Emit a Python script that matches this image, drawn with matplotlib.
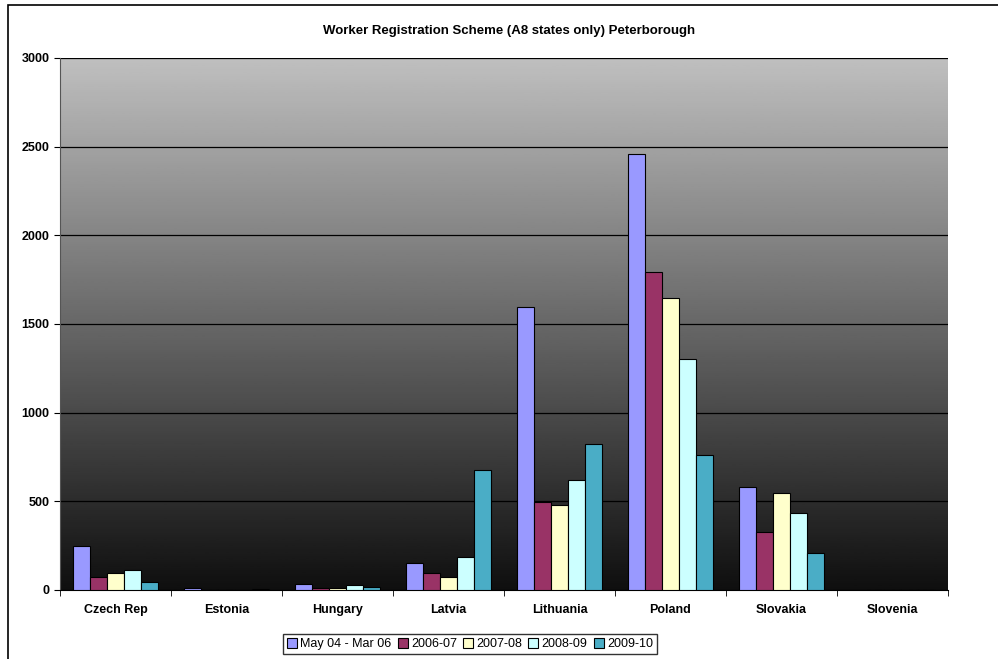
import numpy as np
import matplotlib
matplotlib.use('Agg')
import matplotlib.pyplot as plt
from matplotlib.patches import Rectangle

plt.rcParams['font.family'] = ['Liberation Sans', 'DejaVu Sans']

countries = ['Czech Rep', 'Estonia', 'Hungary', 'Latvia', 'Lithuania', 'Poland', 'Slovakia', 'Slovenia']
series = ['May 04 - Mar 06', '2006-07', '2007-08', '2008-09', '2009-10']

may04_mar06 = [248, 10, 35, 150, 1598, 2460, 581, 0]
y2006_07 = [73, 2, 10, 96, 496, 1795, 327, 0]
y2007_08 = [96, 2, 10, 73, 479, 1647, 547, 0]
y2008_09 = [113, 2, 30, 186, 620, 1303, 434, 0]
y2009_10 = [45, 5, 15, 677, 823, 761, 209, 0]

values = [may04_mar06, y2006_07, y2007_08, y2008_09, y2009_10]
colors = ['#9999ff', '#993366', '#ffffcc', '#ccffff', '#4aadc6']

fig = plt.figure(figsize=(9.98, 6.59), dpi=100)
ax = fig.add_axes([60/998, 1 - 590/659, 888/998, 532/659])

# outer chart frame (only left and top edges fall inside the picture)
fig.patches.append(Rectangle((8/998, -0.1), 1.2, 1.1 - 5/659, transform=fig.transFigure,
                             fill=False, edgecolor='black', linewidth=1.2))

# grey-to-black gradient plot area
grad = np.linspace(0.75, 0.06, 256).reshape(-1, 1)
ax.imshow(grad, cmap='gray', vmin=0, vmax=1, aspect='auto',
          extent=(-0.5, len(countries) - 0.5, 0, 3000), zorder=0)

x = np.arange(len(countries))
w = 0.154
for i, (vals, c, lab) in enumerate(zip(values, colors, series)):
    ax.bar(x + (i - 2) * w, vals, width=w, color=c, edgecolor='black',
           linewidth=0.8, label=lab, zorder=3)

ax.set_xlim(-0.5, len(countries) - 0.5)
ax.set_ylim(0, 3000)
ax.set_yticks(range(0, 3001, 500))
ax.yaxis.grid(True, color='black', linewidth=0.9, zorder=1)
ax.set_axisbelow(True)

ax.set_xticks(x)
ax.set_xticklabels(countries, fontsize=9, fontweight='bold')
ax.set_xticks(np.arange(-0.5, len(countries)), minor=True)
ax.tick_params(axis='x', which='major', length=0, pad=10)
ax.tick_params(axis='x', which='minor', length=4, direction='out')
ax.tick_params(axis='y', length=4, direction='out', labelsize=9)
for t in ax.get_yticklabels():
    t.set_fontweight('bold')

for s in ['top', 'right']:
    ax.spines[s].set_visible(False)
ax.spines['left'].set_color('#555555')
ax.spines['bottom'].set_color('black')

fig.text(0.51, 1 - 31/659, 'Worker Registration Scheme (A8 states only) Peterborough',
         ha='center', va='center', fontsize=9.5, fontweight='bold')

leg = fig.legend(loc='center', bbox_to_anchor=(470/998, 1 - 644/659), ncol=5,
                 frameon=True, fancybox=False, edgecolor='black', fontsize=9,
                 handlelength=0.8, handleheight=0.8, handletextpad=0.25,
                 columnspacing=0.5, borderpad=0.3, borderaxespad=0)
leg.get_frame().set_linewidth(1.0)

fig.savefig('out.png', dpi=100)
